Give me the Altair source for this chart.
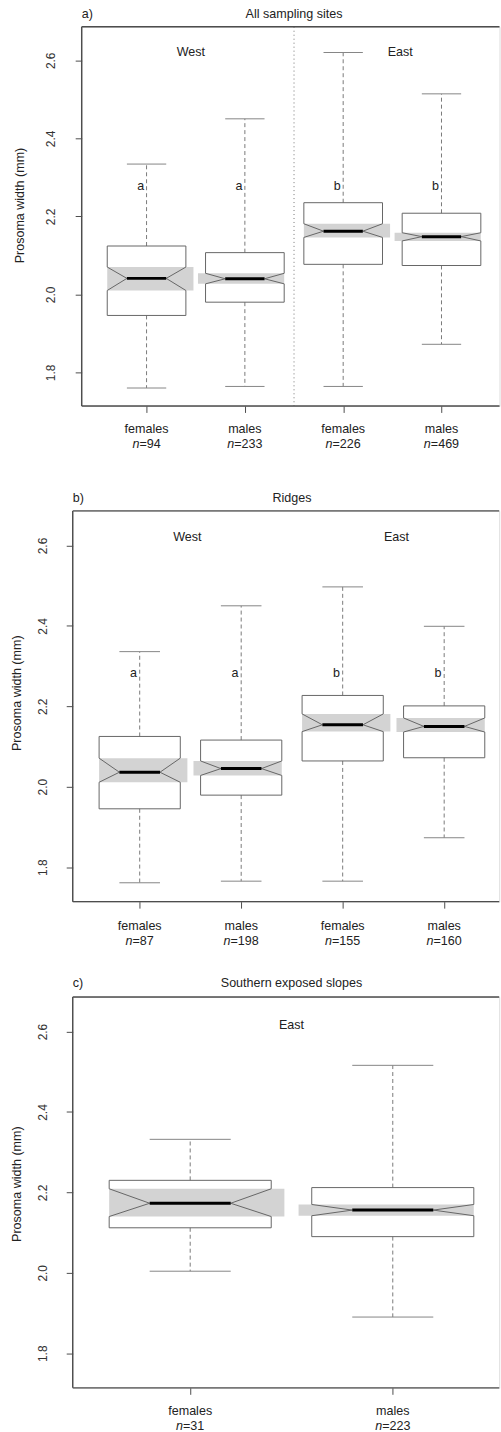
import altair as alt
import numpy as np
import pandas as pd

FONT = "Liberation Sans, Arial, Helvetica, sans-serif"
TXT = "#222222"
LINE = "#666666"
WHISK = "#7a7a7a"
CAP = "#858585"
FRAME = "#4d4d4d"
BAND = "#d3d3d3"
FS = 12.6

Y_LIM = [1.714, 2.686]
Y_TICKS = [1.8, 2.0, 2.2, 2.4, 2.6]

# ---------------- a) All sampling sites ----------------
a_pos = [1, 2, 3, 4]
a_sex = ["females", "males", "females", "males"]
a_n = [94, 233, 226, 469]
a_letter = ["a", "a", "b", "b"]
a_low = [1.760, 1.764, 1.764, 1.872]
a_q1 = [1.946, 1.980, 2.077, 2.074]
a_nlo = [2.010, 2.027, 2.146, 2.137]
a_med = [2.041, 2.040, 2.162, 2.148]
a_nhi = [2.070, 2.054, 2.181, 2.158]
a_q3 = [2.124, 2.107, 2.235, 2.208]
a_high = [2.334, 2.450, 2.620, 2.514]
a_regions = ["West", "East"]
a_region_x = [1.45, 3.58]

# ---------------- b) Ridges ----------------
b_pos = [1, 2, 3, 4]
b_sex = ["females", "males", "females", "males"]
b_n = [87, 198, 155, 160]
b_letter = ["a", "a", "b", "b"]
b_low = [1.761, 1.765, 1.765, 1.873]
b_q1 = [1.945, 1.979, 2.064, 2.072]
b_nlo = [2.011, 2.028, 2.137, 2.136]
b_med = [2.036, 2.045, 2.154, 2.150]
b_nhi = [2.071, 2.064, 2.181, 2.171]
b_q3 = [2.125, 2.116, 2.227, 2.201]
b_high = [2.336, 2.450, 2.497, 2.399]
b_regions = ["West", "East"]
b_region_x = [1.47, 3.53]

# ---------------- c) Southern exposed slopes ----------------
c_pos = [1, 2]
c_sex = ["females", "males"]
c_n = [31, 223]
c_letter = ["", ""]
c_low = [2.004, 1.890]
c_q1 = [2.112, 2.090]
c_nlo = [2.140, 2.142]
c_med = [2.173, 2.156]
c_nhi = [2.209, 2.170]
c_q3 = [2.230, 2.212]
c_high = [2.332, 2.516]
c_regions = ["East"]
c_region_x = [1.5]


def build_panel(tag, title, pos, sex, n, letters, stats, regions, region_x,
                letter_y, region_y, xlim, full_w, vis_w, h, lab_pad,
                ttl_x, ttl_y, ext, title_dy, lab_dy, sep=None):
    xmin, xmax_full = xlim
    xmax = xmin + (xmax_full - xmin) * vis_w / full_w
    ppu = full_w / (xmax_full - xmin)
    low, q1, nlo, med, nhi, q3, high = stats

    xs = alt.Scale(domain=[xmin, xmax], nice=False, zero=False)
    ys = alt.Scale(domain=Y_LIM, nice=False, zero=False)
    xa = alt.Axis(values=list(pos), labels=False, ticks=True, tickSize=6.5,
                  tickColor=FRAME, tickWidth=1, domain=False, grid=False,
                  title=None)
    ya = alt.Axis(values=Y_TICKS, format=".1f", labelAngle=270,
                  labelAlign="center", labelBaseline="middle",
                  labelPadding=lab_pad, labelFont=FONT, labelFontSize=12,
                  labelColor="#333333", tickSize=6.5, tickColor=FRAME,
                  tickWidth=1, domain=False, grid=False,
                  title="Prosoma width (mm)", titleFont=FONT,
                  titleFontSize=FS, titleFontWeight="normal",
                  titleColor=TXT, titleAngle=270, titleAlign="center",
                  titleBaseline="middle", titleX=ttl_x, titleY=ttl_y)

    def X(f):
        return alt.X(f, type="quantitative", scale=xs, axis=xa)

    def Y(f):
        return alt.Y(f, type="quantitative", scale=ys, axis=ya)

    pos_a = np.array(pos, dtype=float)
    is_m = np.array([s == "males" for s in sex])
    boxes = pd.DataFrame({
        "pos": pos_a, "sex": sex, "n": n, "letter": letters,
        "low": low, "q1": q1, "nlo": nlo, "med": med, "nhi": nhi,
        "q3": q3, "high": high,
    })
    boxes["bx1"] = pos_a - 0.4 - np.where(is_m, ext, 0.0)
    boxes["bx2"] = pos_a + 0.4 + np.where(~is_m, ext, 0.0)
    boxes["m1"] = pos_a - 0.2
    boxes["m2"] = pos_a + 0.2
    boxes["lx"] = pos_a - 0.06
    boxes["ly"] = letter_y

    # split point between the italic "n" and "=value"
    w_digit = 0.556 * FS
    w_eq = 0.584 * FS
    w_n = 0.556 * FS
    split_px = [(w_n - (w_eq + w_digit * len(str(v)))) / 2 for v in n]
    boxes["nx"] = pos_a + np.array(split_px) / ppu
    boxes["neq"] = ["=" + str(v) for v in n]
    boxes["ni"] = "n"

    # notched box outlines
    pts = []
    for i, r in boxes.iterrows():
        L, R, c = r.pos - 0.4, r.pos + 0.4, r.pos
        seq = [(L, r.q3), (L, r.nhi), (c - 0.2, r.med), (L, r.nlo), (L, r.q1),
               (R, r.q1), (R, r.nlo), (c + 0.2, r.med), (R, r.nhi), (R, r.q3),
               (L, r.q3)]
        for k, (x, y) in enumerate(seq):
            pts.append({"box": i, "k": k, "x": x, "y": y})
    outline = pd.DataFrame(pts)

    whisk = pd.DataFrame({"x": list(pos_a) * 2, "y": list(q3) + list(q1),
                          "y2": list(high) + list(low)})
    caps = pd.DataFrame({"x1": list(pos_a - 0.2) * 2,
                         "x2": list(pos_a + 0.2) * 2,
                         "y": list(high) + list(low)})
    reg = pd.DataFrame({"x": region_x, "y": [region_y] * len(regions),
                        "t": regions})

    layers = []
    layers.append(alt.Chart(boxes).mark_rect(color=BAND).encode(
        x=X("bx1"), x2="bx2", y=Y("nlo"), y2="nhi"))
    if sep is not None:
        layers.append(alt.Chart(pd.DataFrame({"x": [sep]})).mark_rule(
            color="#777777", strokeWidth=1, strokeDash=[1, 3]).encode(x=X("x")))
    layers.append(alt.Chart(whisk).mark_rule(
        color=WHISK, strokeWidth=1, strokeDash=[4, 3]).encode(
        x=X("x"), y=Y("y"), y2="y2"))
    layers.append(alt.Chart(caps).mark_rule(color=CAP, strokeWidth=1).encode(
        x=X("x1"), x2="x2", y=Y("y")))
    layers.append(alt.Chart(outline).mark_line(
        color=LINE, strokeWidth=1, strokeJoin="miter").encode(
        x=X("x"), y=Y("y"), detail="box:N", order="k:Q"))
    layers.append(alt.Chart(boxes).mark_rule(color="black", strokeWidth=3).encode(
        x=X("m1"), x2="m2", y=Y("med")))
    if any(letters):
        layers.append(alt.Chart(boxes).mark_text(
            font=FONT, fontSize=FS, color=TXT, align="center",
            baseline="middle").encode(x=X("lx"), y=Y("ly"), text="letter"))
    layers.append(alt.Chart(reg).mark_text(
        font=FONT, fontSize=FS, color=TXT, align="center",
        baseline="middle").encode(x=X("x"), y=Y("y"), text="t"))

    # frame: left, top and bottom edges
    layers.append(alt.Chart(pd.DataFrame({"x": [xmin]})).mark_rule(
        color=FRAME, strokeWidth=1.4).encode(x=X("x")))
    layers.append(alt.Chart(pd.DataFrame({"y": Y_LIM})).mark_rule(
        color=FRAME, strokeWidth=1.4).encode(y=Y("y")))

    # category labels under the axis
    layers.append(alt.Chart(boxes).mark_text(
        font=FONT, fontSize=FS, color=TXT, align="center",
        baseline="middle").encode(x=X("pos"), y=alt.value(h + lab_dy),
                                  text="sex"))
    layers.append(alt.Chart(boxes).mark_text(
        font=FONT, fontSize=FS, color=TXT, fontStyle="italic", align="right",
        baseline="middle").encode(x=X("nx"), y=alt.value(h + lab_dy + 15),
                                  text="ni"))
    layers.append(alt.Chart(boxes).mark_text(
        font=FONT, fontSize=FS, color=TXT, align="left",
        baseline="middle").encode(x=X("nx"), y=alt.value(h + lab_dy + 15),
                                  text="neq"))

    # panel tag and title
    layers.append(alt.Chart(pd.DataFrame({"x": [xmin], "t": [tag]})).mark_text(
        font=FONT, fontSize=FS, color=TXT, align="left",
        baseline="middle").encode(x=X("x"), y=alt.value(title_dy), text="t"))
    layers.append(alt.Chart(pd.DataFrame(
        {"x": [(xmin + xmax_full) / 2], "t": [title]})).mark_text(
        font=FONT, fontSize=FS, color=TXT, align="center",
        baseline="middle").encode(x=X("x"), y=alt.value(title_dy), text="t"))

    return alt.layer(*layers).properties(width=vis_w, height=h)


panel_a = build_panel(
    "a)", "All sampling sites", a_pos, a_sex, a_n, a_letter,
    (a_low, a_q1, a_nlo, a_med, a_nhi, a_q3, a_high), a_regions, a_region_x,
    letter_y=2.277, region_y=2.62, xlim=(0.34, 4.66), full_w=426.4,
    vis_w=419.5, h=380.7, lab_pad=25, ttl_x=-62, ttl_y=179, ext=0.077,
    title_dy=-12.7, lab_dy=23.3, sep=2.5)

panel_b = build_panel(
    "b)", "Ridges", b_pos, b_sex, b_n, b_letter,
    (b_low, b_q1, b_nlo, b_med, b_nhi, b_q3, b_high), b_regions, b_region_x,
    letter_y=2.282, region_y=2.62, xlim=(0.34, 4.66), full_w=440.2,
    vis_w=428.2, h=392.3, lab_pad=23.5, ttl_x=-56.3, ttl_y=182.5, ext=0.07,
    title_dy=-13.3, lab_dy=24.4)

panel_c = build_panel(
    "c)", "Southern exposed slopes", c_pos, c_sex, c_n, c_letter,
    (c_low, c_q1, c_nlo, c_med, c_nhi, c_q3, c_high), c_regions, c_region_x,
    letter_y=2.28, region_y=2.616, xlim=(0.42, 2.58), full_w=439.3,
    vis_w=428.2, h=392.4, lab_pad=23.5, ttl_x=-56.3, ttl_y=187.4, ext=0.065,
    title_dy=-14, lab_dy=23.3)

spacer = alt.Chart(pd.DataFrame({"v": [0]})).mark_point(opacity=0).properties(
    width=8.7, height=10)

top_row = alt.hconcat(spacer, panel_a, spacing=0, bounds="flush")
lower = alt.vconcat(panel_b, panel_c, spacing=95, bounds="flush")

chart = alt.vconcat(top_row, lower, spacing=39.1).properties(
    padding={"left": 10, "top": 4, "right": 0, "bottom": 0}
).configure_view(stroke=None).configure(font=FONT)

chart.save("out.html", embed_options={"renderer": "svg", "actions": False})
